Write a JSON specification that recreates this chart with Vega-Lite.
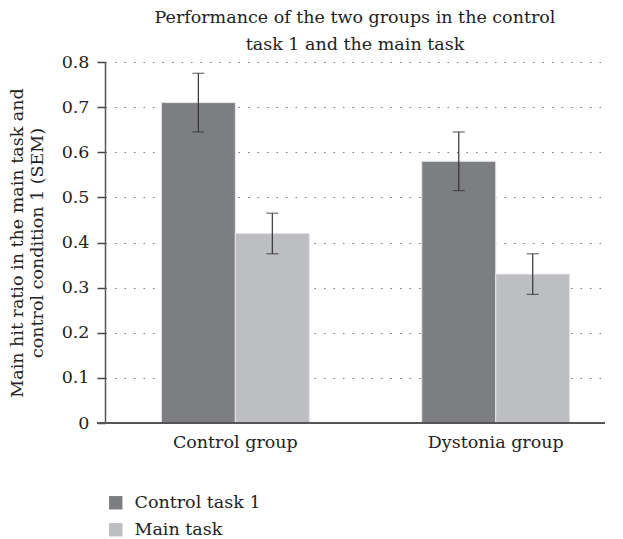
{
  "$schema": "https://vega.github.io/schema/vega-lite/v6.json",
  "width": 500,
  "height": 361,
  "autosize": {"type": "none"},
  "padding": {"left": 105, "top": 62, "right": 18, "bottom": 116},
  "background": "white",
  "config": {
    "view": {"stroke": null},
    "font": "DejaVu Serif",
    "axis": {"labelFont": "DejaVu Serif", "titleFont": "DejaVu Serif", "labelColor": "#222", "titleColor": "#222"},
    "legend": {"labelFont": "DejaVu Serif"}
  },
  "title": {
    "text": ["Performance of the two groups in the control", "task 1 and the main task"],
    "fontSize": 17.5,
    "fontWeight": "normal",
    "font": "DejaVu Serif",
    "color": "#222",
    "lineHeight": 27,
    "offset": 0,
    "anchor": "middle"
  },
  "data": {
    "values": [
      {"group": "Control group", "series": "Control task 1", "value": 0.71, "lo": 0.645, "hi": 0.775},
      {"group": "Control group", "series": "Main task", "value": 0.42, "lo": 0.375, "hi": 0.465},
      {"group": "Dystonia group", "series": "Control task 1", "value": 0.58, "lo": 0.515, "hi": 0.645},
      {"group": "Dystonia group", "series": "Main task", "value": 0.33, "lo": 0.285, "hi": 0.375}
    ]
  },
  "layer": [
    {
      "mark": {"type": "bar", "stroke": "#e6e6e8", "strokeWidth": 1},
      "encoding": {
        "x": {
          "field": "group",
          "type": "nominal",
          "sort": ["Control group", "Dystonia group"],
          "scale": {"paddingInner": 0.432, "paddingOuter": 0.176, "align": 0.615},
          "axis": {
            "title": null,
            "labelAngle": 0,
            "labelFontSize": 17.5,
            "labelPadding": 10,
            "ticks": false,
            "domain": false
          }
        },
        "xOffset": {"field": "series", "type": "nominal", "sort": ["Control task 1", "Main task"], "scale": {"paddingInner": 0, "paddingOuter": 0}},
        "y": {
          "field": "value",
          "type": "quantitative",
          "scale": {"domain": [0, 0.8], "nice": false},
          "axis": {
            "values": [0, 0.1, 0.2, 0.3, 0.4, 0.5, 0.6, 0.7, 0.8],
            "labelExpr": "datum.value == 0 ? '0' : format(datum.value, '.1f')",
            "labelFontSize": 17.5,
            "labelPadding": 8,
            "ticks": true,
            "tickSize": 8,
            "tickColor": "#444",
            "tickWidth": 1.5,
            "domainColor": "#555",
            "domainWidth": 1.5,
            "grid": true,
            "gridDash": [1.5, 8],
            "gridColor": "#777",
            "gridWidth": 1,
            "title": ["Main hit ratio in the main task and", "control condition 1 (SEM)"],
            "titleFontSize": 17.5,
            "titleFontWeight": "normal",
            "titleLineHeight": 20,
            "titlePadding": 15
          }
        },
        "color": {
          "field": "series",
          "type": "nominal",
          "scale": {"domain": ["Control task 1", "Main task"], "range": ["#7d7e82", "#bdbec2"]},
          "legend": {
            "title": null,
            "orient": "none",
            "legendX": 2,
            "legendY": 432,
            "symbolType": "square",
            "symbolSize": 180,
            "symbolStrokeWidth": 0,
            "labelFontSize": 17.5,
            "labelColor": "#222",
            "rowPadding": 8,
            "labelOffset": 10
          }
        }
      }
    },
    {
      "mark": {"type": "rule", "color": "#333", "strokeWidth": 1.2},
      "encoding": {
        "x": {"field": "group", "type": "nominal", "sort": ["Control group", "Dystonia group"]},
        "xOffset": {"field": "series", "type": "nominal", "sort": ["Control task 1", "Main task"]},
        "y": {"field": "lo", "type": "quantitative"},
        "y2": {"field": "hi"}
      }
    },
    {
      "mark": {"type": "tick", "color": "#333", "thickness": 1.2, "size": 12, "orient": "horizontal"},
      "encoding": {
        "x": {"field": "group", "type": "nominal", "sort": ["Control group", "Dystonia group"]},
        "xOffset": {"field": "series", "type": "nominal", "sort": ["Control task 1", "Main task"]},
        "y": {"field": "lo", "type": "quantitative"}
      }
    },
    {
      "mark": {"type": "tick", "color": "#333", "thickness": 1.2, "size": 12, "orient": "horizontal"},
      "encoding": {
        "x": {"field": "group", "type": "nominal", "sort": ["Control group", "Dystonia group"]},
        "xOffset": {"field": "series", "type": "nominal", "sort": ["Control task 1", "Main task"]},
        "y": {"field": "hi", "type": "quantitative"}
      }
    },
    {
      "data": {"values": [{"v": 0}]},
      "mark": {"type": "rule", "color": "#555", "strokeWidth": 2, "x": -8, "x2": 500},
      "encoding": {"y": {"field": "v", "type": "quantitative"}}
    }
  ]
}
